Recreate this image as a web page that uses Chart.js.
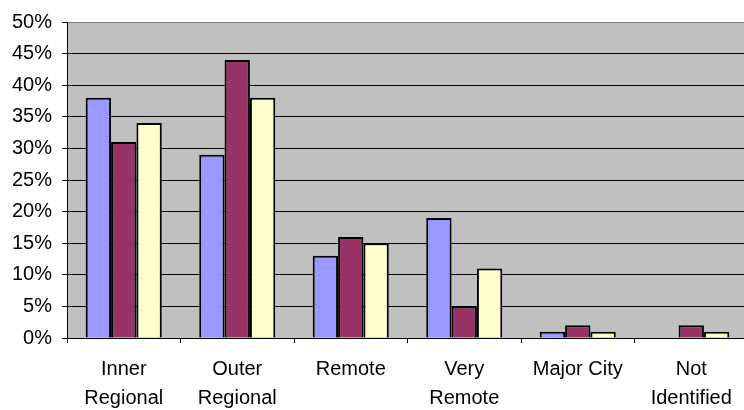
<!DOCTYPE html>
<html>
<head>
<meta charset="utf-8">
<script src="https://cdn.jsdelivr.net/npm/chart.js@4.4.1/dist/chart.umd.min.js"></script>
<style>
  html, body { margin: 0; padding: 0; background: #fff; overflow: hidden; }
  #wrap { width: 750px; height: 410px; }
</style>
</head>
<body>
<div id="wrap"><canvas id="chart" width="750" height="410"></canvas></div>
<script>
const categories = [
  ['Inner', 'Regional'],
  ['Outer', 'Regional'],
  'Remote',
  ['Very', 'Remote'],
  'Major City',
  ['Not', 'Identified']
];
const series1 = [38, 29, 13, 19, 1, 0];
const series2 = [31, 44, 16, 5, 2, 2];
const series3 = [34, 38, 15, 11, 1, 1];

// grey plot area behind the grid
const plotBg = {
  id: 'plotBg',
  beforeDraw(chart) {
    const a = chart.chartArea;
    const c = chart.ctx;
    c.save();
    c.fillStyle = '#c0c0c0';
    c.fillRect(a.left, a.top, a.right - a.left, a.bottom - a.top);
    c.restore();
  }
};

const font = { family: 'Liberation Sans, Arial, sans-serif', size: 20, lineHeight: 1.45 };

const ctx = document.getElementById('chart').getContext('2d');
new Chart(ctx, {
  type: 'bar',
  data: {
    labels: categories,
    datasets: [
      { label: 'Series 1', data: series1, backgroundColor: '#9999ff' },
      { label: 'Series 2', data: series2, backgroundColor: '#993366' },
      { label: 'Series 3', data: series3, backgroundColor: '#ffffcc' }
    ]
  },
  options: {
    responsive: false,
    animation: false,
    devicePixelRatio: 1,
    layout: { padding: { top: 19, right: 2, left: 0, bottom: 0 } },
    datasets: {
      bar: {
        borderColor: '#000',
        borderWidth: 2,
        categoryPercentage: 0.67,
        barPercentage: 1
      }
    },
    plugins: {
      legend: { display: false },
      tooltip: { enabled: false }
    },
    scales: {
      x: {
        grid: {
          offset: true,
          drawOnChartArea: false,
          color: '#000',
          tickLength: 5
        },
        border: { color: '#000', width: 1 },
        ticks: { color: '#000', font: font, padding: 12, maxRotation: 0, autoSkip: false },
        afterFit(scale) { scale.height = 72; }
      },
      y: {
        min: 0,
        max: 50,
        grid: {
          color: (c) => c.index === 10 ? '#808080' : '#000',
          tickColor: '#000',
          tickLength: 5
        },
        border: { color: '#000', width: 1 },
        ticks: {
          stepSize: 5,
          autoSkip: false,
          color: '#000',
          font: { family: 'Liberation Sans, Arial, sans-serif', size: 20 },
          padding: 10,
          callback: (v) => v + '%'
        },
        afterFit(scale) { scale.width = 67; }
      }
    }
  },
  plugins: [plotBg]
});
</script>
</body>
</html>
